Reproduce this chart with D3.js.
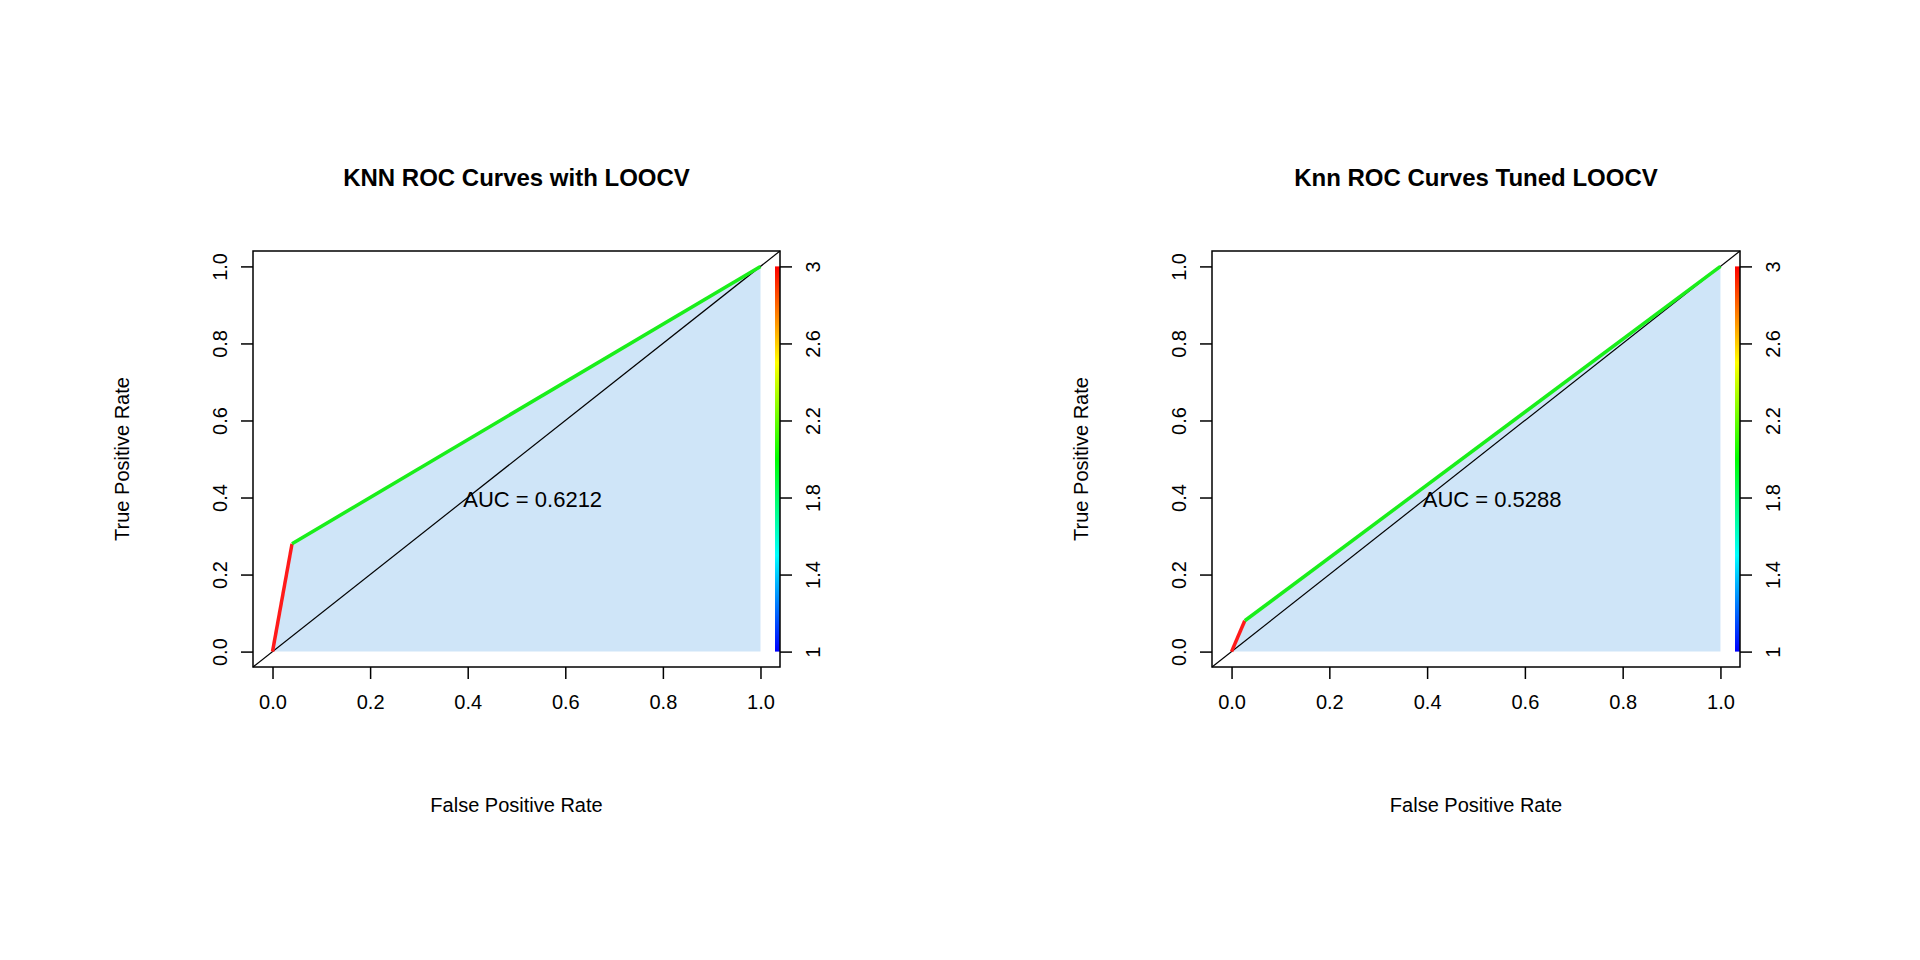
<!DOCTYPE html>
<html>
<head>
<script src="https://d3js.org/d3.v7.min.js"></script>
<style>body{margin:0;background:#fff}text{font-family:"Liberation Sans",Arial,sans-serif}</style>
</head>
<body>
<svg id="chart" width="1920" height="960"></svg>
<script>
const titles = ["KNN ROC Curves with LOOCV", "Knn ROC Curves Tuned LOOCV"];
const aucLabels = ["AUC = 0.6212", "AUC = 0.5288"];
const fprA = [0, 0.04, 1];
const tprA = [0, 0.28, 1];
const fprB = [0, 0.027, 1];
const tprB = [0, 0.08, 1];
const xTicks = [0, 0.2, 0.4, 0.6, 0.8, 1.0];
const yTicks = [0, 0.2, 0.4, 0.6, 0.8, 1.0];
const cutTicks = [1, 1.4, 1.8, 2.2, 2.6, 3];
const segColors = ["#ff1a1a", "#1aee1a"];

const svg = d3.select("#chart");
const defs = svg.append("defs");
const grad = defs.append("linearGradient").attr("id", "rb").attr("x1", 0).attr("y1", 1).attr("x2", 0).attr("y2", 0);
["#0000ff", "#00ffff", "#00ff00", "#ffff00", "#ff0000"].forEach((c, i) =>
  grad.append("stop").attr("offset", i / 4).attr("stop-color", c));

const panels = [
  {left: 253, right: 780, fpr: fprA, tpr: tprA},
  {left: 1212, right: 1740, fpr: fprB, tpr: tprB}
];
const boxTop = 251, boxBottom = 667;

panels.forEach((p, k) => {
  const x = d3.scaleLinear().domain([-0.04, 1.04]).range([p.left, p.right]);
  const y = d3.scaleLinear().domain([-0.04, 1.04]).range([boxBottom, boxTop]);
  const c = d3.scaleLinear().domain([1, 3]).range([y(0), y(1)]);
  const g = svg.append("g");

  // fill under curve
  const area = d3.area().x((d, i) => x(p.fpr[i])).y0(y(0)).y1((d, i) => y(p.tpr[i]));
  g.append("path").attr("d", area(p.fpr)).attr("fill", "#cfe5f8");

  // diagonal
  g.append("line").attr("x1", x(-0.04)).attr("y1", y(-0.04)).attr("x2", x(1.04)).attr("y2", y(1.04))
    .attr("stroke", "#000").attr("stroke-width", 1.2);

  // curve segments
  for (let i = 0; i < p.fpr.length - 1; i++) {
    g.append("line").attr("x1", x(p.fpr[i])).attr("y1", y(p.tpr[i]))
      .attr("x2", x(p.fpr[i + 1])).attr("y2", y(p.tpr[i + 1]))
      .attr("stroke", segColors[i]).attr("stroke-width", 3.5);
  }

  // colorbar
  g.append("rect").attr("x", p.right - 5).attr("y", c(3)).attr("width", 5).attr("height", c(1) - c(3))
    .attr("fill", "url(#rb)");

  g.append("rect").attr("x", p.left).attr("y", boxTop).attr("width", p.right - p.left).attr("height", boxBottom - boxTop)
    .attr("fill", "none").attr("stroke", "#000").attr("stroke-width", 1.5);

  const xa = g.append("g").attr("transform", `translate(0,${boxBottom})`)
    .call(d3.axisBottom(x).tickValues(xTicks).tickFormat(d3.format(".1f")).tickSize(12).tickPadding(8));
  const ya = g.append("g").attr("transform", `translate(${p.left},0)`)
    .call(d3.axisLeft(y).tickValues(yTicks).tickFormat(d3.format(".1f")).tickSize(12).tickPadding(8));
  const ca = g.append("g").attr("transform", `translate(${p.right},0)`)
    .call(d3.axisRight(c).tickValues(cutTicks).tickFormat(d => String(d)).tickSize(12).tickPadding(8));
  [xa, ya, ca].forEach(a => {
    a.select(".domain").remove();
    a.selectAll("line").attr("stroke-width", 1.5);
    a.selectAll("text").attr("font-size", 20).attr("fill", "#000");
  });
  ya.selectAll(".tick text").attr("text-anchor", "middle").attr("dy", 0).attr("x", 0)
    .attr("transform", "translate(-26,0) rotate(-90)");
  ca.selectAll(".tick text").attr("text-anchor", "middle").attr("dy", 0).attr("x", 0)
    .attr("transform", "translate(40,0) rotate(-90)");
  xa.selectAll(".tick text").attr("dy", "1.1em");

  const cx = (p.left + p.right) / 2;
  g.append("text").attr("x", cx).attr("y", 186).attr("text-anchor", "middle")
    .attr("font-size", 24).attr("font-weight", "bold").text(titles[k]);
  g.append("text").attr("x", cx).attr("y", 812).attr("text-anchor", "middle")
    .attr("font-size", 20).text("False Positive Rate");
  g.append("text").attr("transform", `translate(${p.left - 124},${(boxTop + boxBottom) / 2}) rotate(-90)`)
    .attr("text-anchor", "middle").attr("font-size", 20).text("True Positive Rate");
  g.append("text").attr("x", x(0.4) + 65).attr("y", y(0.4) + 9).attr("text-anchor", "middle")
    .attr("font-size", 22).text(aucLabels[k]);
});
</script>
</body>
</html>
